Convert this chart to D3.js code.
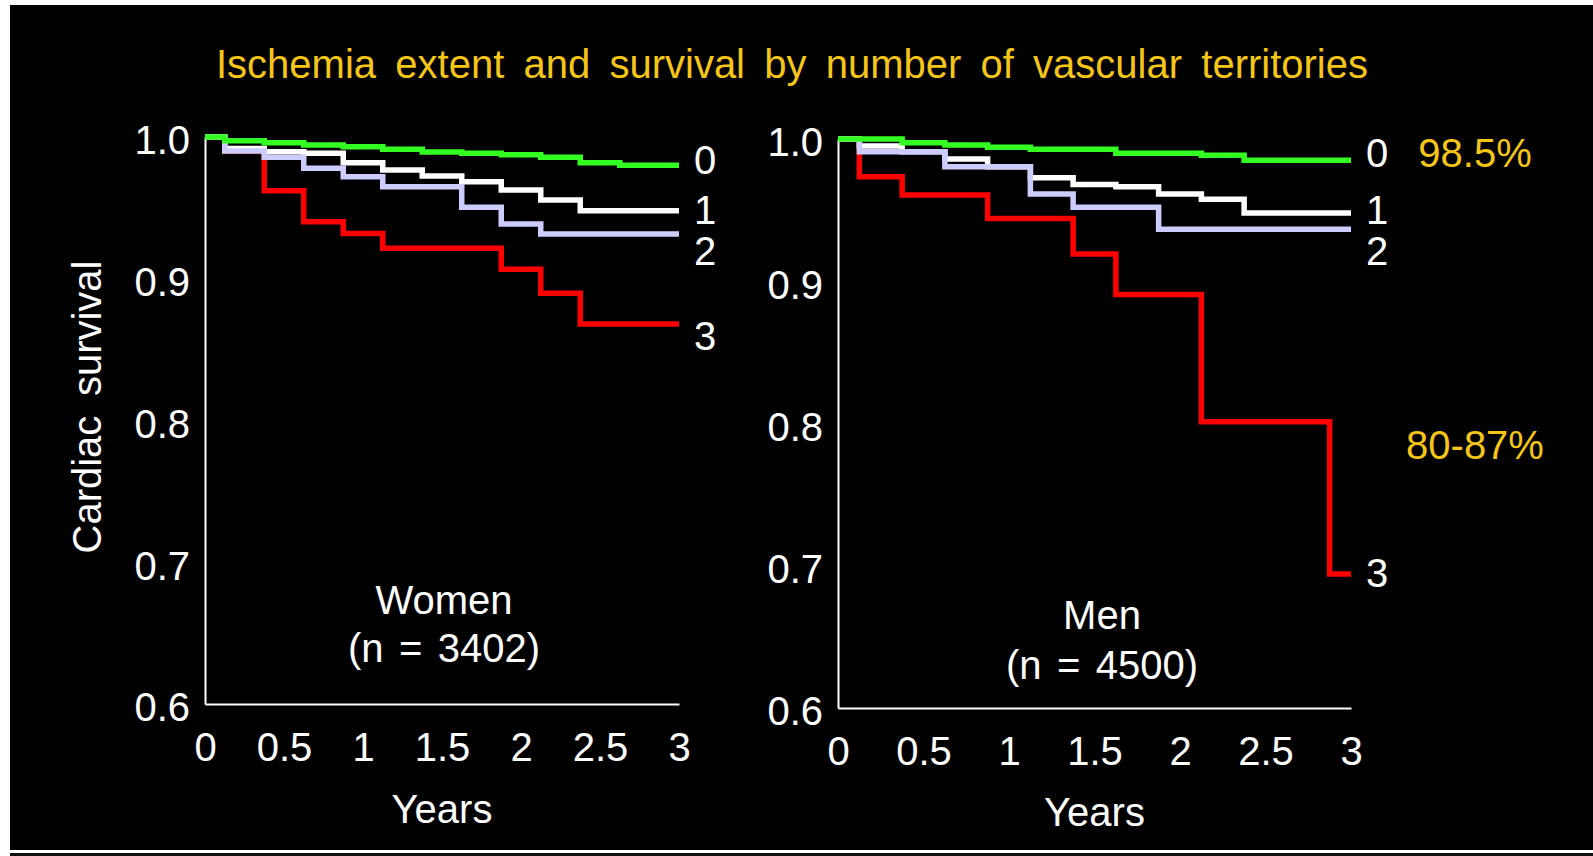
<!DOCTYPE html>
<html>
<head>
<meta charset="utf-8">
<script src="https://cdn.jsdelivr.net/npm/d3@7"></script>
<style>
  html, body { margin: 0; padding: 0; background: #ffffff; }
  svg { display: block; }
  text { font-family: "Liberation Sans", Arial, sans-serif; }
</style>
</head>
<body>
<svg id="chart" width="1593" height="856"></svg>
<script>
// Follow-up times (years) at which the survival estimates change
const years = [0, 0.125, 0.375, 0.625, 0.875, 1.125, 1.375, 1.625, 1.875, 2.125, 2.375, 2.625, 2.875, 3];

// Women: cardiac survival by number of ischemic vascular territories
const womenNone  = [1.0, 0.9974, 0.996, 0.9944, 0.9932, 0.9913, 0.9894, 0.9885, 0.9875, 0.9857, 0.9819, 0.980, 0.980, 0.980];
const womenOne   = [1.0, 0.9918, 0.9896, 0.9885, 0.9819, 0.9767, 0.9725, 0.9685, 0.9626, 0.9556, 0.948, 0.948, 0.948, 0.948];
const womenTwo   = [1.0, 0.9901, 0.9857, 0.9779, 0.972, 0.9649, 0.9649, 0.9504, 0.9386, 0.9316, 0.9316, 0.9316, 0.9316, 0.9316];
const womenThree = [1.0, 0.9901, 0.9621, 0.9403, 0.932, 0.9215, 0.9215, 0.9215, 0.9067, 0.8897, 0.868, 0.868, 0.868, 0.868];

// Men: cardiac survival by number of ischemic vascular territories
const menNone  = [1.0, 1.0, 0.9974, 0.9958, 0.9942, 0.9928, 0.9928, 0.990, 0.990, 0.9885, 0.985, 0.985, 0.985, 0.985];
const menOne   = [1.0, 0.995, 0.991, 0.986, 0.9805, 0.9728, 0.9681, 0.9665, 0.9613, 0.9576, 0.948, 0.948, 0.948, 0.948];
const menTwo   = [1.0, 0.9911, 0.9911, 0.9805, 0.9805, 0.9613, 0.952, 0.952, 0.9365, 0.9365, 0.9365, 0.9365, 0.9365, 0.9365];
const menThree = [1.0, 0.9734, 0.9606, 0.9606, 0.9442, 0.9442, 0.9192, 0.8906, 0.8906, 0.8013, 0.8013, 0.8013, 0.6942, 0.6942];

const territoryLabels = ["0", "1", "2", "3"];
const xTickValues = [0, 0.5, 1, 1.5, 2, 2.5, 3];
const xTickLabels = ["0", "0.5", "1", "1.5", "2", "2.5", "3"];
const yTickValues = [0.6, 0.7, 0.8, 0.9, 1.0];
const yTickLabels = ["0.6", "0.7", "0.8", "0.9", "1.0"];

const titleText = "Ischemia extent and survival by number of vascular territories";
const summaryLabels = ["98.5%", "80-87%"];

// Drawing order: red underneath, then white, lavender, green on top
const drawOrder = [3, 1, 2, 0];
const seriesColors = ["#33ff22", "#ffffff", "#ccccff", "#ff0000"];
const yellow = "#f5c518";

const svg = d3.select("#chart");

// Slide background
svg.append("rect").attr("x", 10).attr("y", 5).attr("width", 1583).attr("height", 845).attr("fill", "#000");
svg.append("rect").attr("x", 10).attr("y", 853).attr("width", 1583).attr("height", 3).attr("fill", "#111");

// Spread words so a line of text fills a given width
function fitWords(sel, target) {
  const w = sel.node().getComputedTextLength();
  const n = (sel.text().match(/ /g) || []).length;
  if (n) sel.style("word-spacing", ((target - w) / n) + "px");
}

const title = svg.append("text")
  .attr("x", 792).attr("y", 78)
  .attr("text-anchor", "middle")
  .attr("font-size", 40)
  .attr("fill", yellow)
  .text(titleText);
fitWords(title, 1152);

const yLabel = svg.append("text")
  .attr("transform", "translate(101,407) rotate(-90)")
  .attr("text-anchor", "middle")
  .attr("font-size", 40)
  .attr("fill", "#fff")
  .text("Cardiac survival");
fitWords(yLabel, 293);

const panels = [
  {
    series: [womenNone, womenOne, womenTwo, womenThree],
    x: [205, 679], y: [704, 137],
    labelDy: [9, 13, 31, 26],
    name: "Women", n: "(n = 3402)", nameX: 444, nameY: 614, nY: 662, nWidth: 192,
    yearsY: 823
  },
  {
    series: [menNone, menOne, menTwo, menThree],
    x: [838, 1351], y: [708, 139],
    labelDy: [7, 11, 36, 13],
    name: "Men", n: "(n = 4500)", nameX: 1102, nameY: 629, nY: 679, nWidth: 192,
    yearsY: 826
  }
];

panels.forEach(p => {
  const xs = d3.scaleLinear().domain([0, 3]).range(p.x);
  const ys = d3.scaleLinear().domain([0.6, 1.0]).range(p.y);
  const g = svg.append("g");

  // Axes
  const xAxis = g.append("g")
    .attr("transform", `translate(0,${p.y[0]})`)
    .call(d3.axisBottom(xs).tickValues(xTickValues)
      .tickFormat((d, i) => xTickLabels[i]).tickSize(0).tickPadding(29));
  const yAxis = g.append("g")
    .attr("transform", `translate(${p.x[0]},0)`)
    .call(d3.axisLeft(ys).tickValues(yTickValues)
      .tickFormat((d, i) => yTickLabels[i]).tickSize(0).tickPadding(15));
  [xAxis, yAxis].forEach(a => {
    a.select(".domain").attr("stroke", "#fff").attr("stroke-width", 2);
    a.selectAll("text").attr("fill", "#fff").attr("font-size", 40)
      .attr("font-family", "'Liberation Sans', Arial, sans-serif");
  });
  yAxis.selectAll("text").attr("dy", "0.42em");

  // Survival curves
  const line = d3.line()
    .x((d, i) => xs(years[i]))
    .y(d => ys(d))
    .curve(d3.curveStepAfter);
  drawOrder.forEach(k => {
    g.append("path")
      .datum(p.series[k])
      .attr("d", line)
      .attr("fill", "none")
      .attr("stroke", seriesColors[k])
      .attr("stroke-width", 5.5)
      .attr("stroke-linejoin", "miter");
  });

  // Territory labels at the end of each curve
  p.series.forEach((s, k) => {
    g.append("text")
      .attr("x", xs(3) + 26)
      .attr("y", ys(s[s.length - 1]) + p.labelDy[k])
      .attr("text-anchor", "middle")
      .attr("font-size", 40)
      .attr("fill", "#fff")
      .text(territoryLabels[k]);
  });

  // Panel captions
  g.append("text")
    .attr("x", p.nameX).attr("y", p.nameY)
    .attr("text-anchor", "middle").attr("font-size", 40).attr("fill", "#fff")
    .text(p.name);
  const nText = g.append("text")
    .attr("x", p.nameX).attr("y", p.nY)
    .attr("text-anchor", "middle").attr("font-size", 40).attr("fill", "#fff")
    .text(p.n);
  fitWords(nText, p.nWidth);

  g.append("text")
    .attr("x", (p.x[0] + p.x[1]) / 2).attr("y", p.yearsY)
    .attr("text-anchor", "middle").attr("font-size", 40).attr("fill", "#fff")
    .text("Years");
});

// Summary percentages on the right
svg.append("text")
  .attr("x", 1475).attr("y", 167)
  .attr("text-anchor", "middle").attr("font-size", 40).attr("fill", yellow)
  .text(summaryLabels[0]);
svg.append("text")
  .attr("x", 1475).attr("y", 459)
  .attr("text-anchor", "middle").attr("font-size", 40).attr("fill", yellow)
  .text(summaryLabels[1]);
</script>
</body>
</html>
